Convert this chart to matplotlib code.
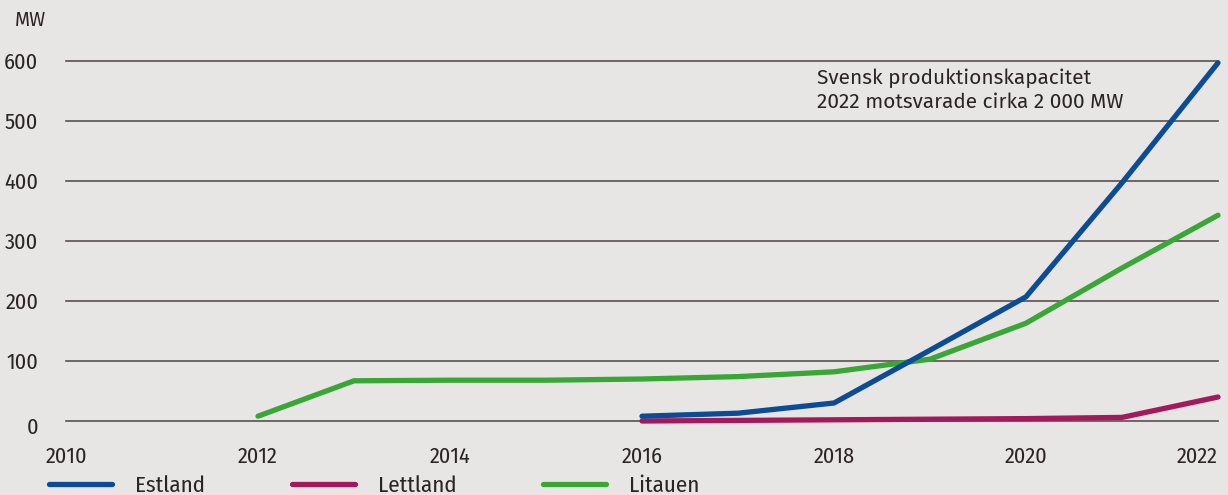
import matplotlib
matplotlib.use("Agg")
import matplotlib.pyplot as plt
from matplotlib.lines import Line2D

years_est = [2016, 2017, 2018, 2019, 2020, 2021, 2022]
estland = [8, 13, 30, 118, 207, 397, 597]

years_let = [2016, 2017, 2018, 2019, 2020, 2021, 2022]
lettland = [0, 1, 2, 3, 4, 6, 40]

years_lit = [2012, 2013, 2014, 2015, 2016, 2017, 2018, 2019, 2020, 2021, 2022]
litauen = [8, 67, 68, 68, 70, 74, 82, 103, 163, 255, 343]

xticks = [2010, 2012, 2014, 2016, 2018, 2020, 2022]
yticks = [0, 100, 200, 300, 400, 500, 600]

series_names = ["Estland", "Lettland", "Litauen"]
colors = ["#0c4b96", "#a3195b", "#38a736"]

bg = "#e8e6e4"
grid_c = "#5a5050"
text_c = "#2b2424"

plt.rcParams['font.family'] = ['Fira Sans Condensed', 'Liberation Sans Narrow', 'Noto Sans', 'DejaVu Sans']
reg_family = ['Fira Sans', 'Noto Sans', 'DejaVu Sans']

fig = plt.figure(figsize=(12.28, 4.95), dpi=100, facecolor=bg)
ax = fig.add_axes([66/1228, (495-421)/495, (1218-66)/1228, (421-61)/495])
ax.set_facecolor(bg)
ax.set_xlim(2010, 2022)
ax.set_ylim(0, 600)

for y in yticks:
    ax.axhline(y, color=grid_c, lw=1.2, zorder=1, clip_on=False)

lw = 3.8
ax.plot(years_lit, litauen, color=colors[2], lw=lw, solid_capstyle='round', solid_joinstyle='round', zorder=3, clip_on=False)
ax.plot(years_let, lettland, color=colors[1], lw=lw, solid_capstyle='round', solid_joinstyle='round', zorder=3, clip_on=False)
ax.plot(years_est, estland, color=colors[0], lw=lw, solid_capstyle='round', solid_joinstyle='round', zorder=4, clip_on=False)

for s in ax.spines.values():
    s.set_visible(False)
ax.tick_params(length=0, colors=text_c)
ax.set_xticks(xticks)
ax.set_xticklabels([str(x) for x in xticks], fontsize=16, color=text_c)
ax.tick_params(axis='x', pad=18)
lbls = ax.get_xticklabels()
lbls[-1].set_ha('right')
ax.set_yticks(yticks)
ax.set_yticklabels(["" if y == 0 else str(y) for y in yticks], fontsize=16, color=text_c)
ax.tick_params(axis='y', pad=20)
ax.annotate(str(yticks[0]), xy=(0, yticks[0]), xycoords=('axes fraction', 'data'),
            xytext=(-20, -4.5), textcoords='offset points', ha='right', va='center',
            fontsize=16, color=text_c)

fig.text(15/1228, 1 - 20/495, "MW", fontsize=14, color=text_c, va='center', ha='left',
         family=reg_family)

ax.text(2017.82, 551, "Svensk produktionskapacitet\n2022 motsvarade cirka 2 000 MW",
        fontsize=15, color=text_c, va='center', ha='left', linespacing=1.3,
        family=reg_family)

handles = [Line2D([0], [0], color=c, lw=lw, solid_capstyle='round') for c in colors]
fig.legend(handles, series_names, loc='center left', bbox_to_anchor=(28/1228, 1 - 486/495),
           ncol=3, frameon=False, fontsize=16.5, handlelength=2.75, handletextpad=1.0,
           columnspacing=3.8, labelcolor=text_c)

fig.savefig("out.png", dpi=100, facecolor=bg)
